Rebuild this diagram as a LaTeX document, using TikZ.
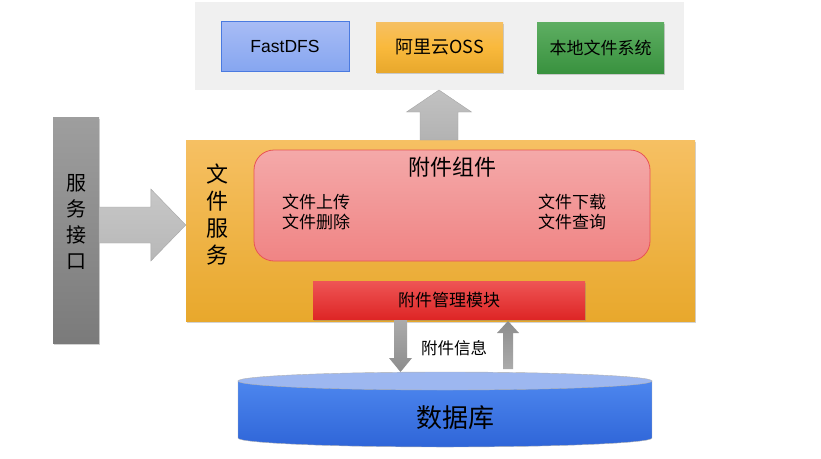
\documentclass[tikz,border=0pt]{standalone}
\usepackage{fontspec}
\setmainfont{Noto Sans CJK SC}
\newfontfamily\latinfont{Liberation Sans}
\usetikzlibrary{calc,shadows}
\definecolor{panelgray}{HTML}{F0F0F0}
\definecolor{blueA}{HTML}{A8BCF5}
\definecolor{blueB}{HTML}{86A6F0}
\definecolor{blueE}{HTML}{4A7AE0}
\definecolor{orA}{HTML}{F6C063}
\definecolor{orB}{HTML}{F9B93C}
\definecolor{orC}{HTML}{E8A82C}
\definecolor{grA}{HTML}{5EAE62}
\definecolor{grB}{HTML}{39923F}
\definecolor{pkA}{HTML}{F4A9A9}
\definecolor{pkB}{HTML}{F08484}
\definecolor{pkE}{HTML}{E85454}
\definecolor{rdA}{HTML}{EE5555}
\definecolor{rdB}{HTML}{DE2626}
\definecolor{dbA}{HTML}{4D86EE}
\definecolor{dbB}{HTML}{2F65D8}
\definecolor{dbT}{HTML}{9DB7F0}
\tikzset{
  box/.style={rectangle, minimum width=#1, inner sep=0pt, font=\fontsize{17}{19}\selectfont},
  softshadow/.style={drop shadow={opacity=0.35, shadow xshift=1pt, shadow yshift=-1.5pt}},
  grayarrow/.style={draw=black!35, line width=0.4pt},
}
\newcommand\fatarrow[6]{%
  \coordinate (fa-h) at ($(#2)!#5!(#1)$);
  \path[#6] ($(#1)!#3!90:(#2)$) -- ($(fa-h)!#3!-90:(#1)$) -- ($(fa-h)!#4!-90:(#1)$)
    -- (#2) -- ($(fa-h)!#4!90:(#1)$) -- ($(fa-h)!#3!90:(#1)$) -- ($(#1)!#3!-90:(#2)$) -- cycle;
}
\begin{document}
\begin{tikzpicture}[x=1pt,y=-1pt]
\useasboundingbox (0,0) rectangle (821,458);
\fill[white] (0,0) rectangle (821,458);
% top storage panel
\node[fill=panelgray, minimum width=489pt, minimum height=88pt, inner sep=0pt] (panel) at (439.5,46) {};
\node[box=128pt, minimum height=50pt, top color=blueA, bottom color=blueB, draw=blueE, line width=0.8pt, font=\latinfont\fontsize{17.5}{19}\selectfont] (fdfs) at (285,46) {FastDFS};
\node[box=127pt, minimum height=50pt, top color=orA, bottom color=orC, middle color=orB, softshadow, font=\fontsize{18}{19}\selectfont] (oss) at (439.5,47) {阿里云OSS};
\node[box=127pt, minimum height=51pt, top color=grA, bottom color=grB, softshadow] (local) at (600.5,47.5) {本地文件系统};
% service interface bar
\node[box=46pt, minimum height=226pt, top color=black!38, bottom color=black!52, softshadow] (svc) at (76,230) {};
\node[font=\fontsize{20}{26}\selectfont, align=center, inner sep=0pt] (svclabel) at (76,222) {服\\务\\接\\口};
% file service box
\node[box=509pt, minimum height=181pt, top color=orA, middle color=orB, bottom color=orC, softshadow] (fs) at (440.5,230.5) {};
\node[font=\fontsize{22}{27}\selectfont, align=center, inner sep=0pt] (fslabel) at (217,215) {文\\件\\服\\务};
% attachment component
\node[rectangle, rounded corners=20pt, minimum width=396pt, minimum height=111pt, inner sep=0pt, top color=pkA, bottom color=pkB, draw=pkE, line width=0.8pt] (comp) at (452,205.5) {};
\node[font=\fontsize{22}{24}\selectfont, inner sep=0pt] (comptitle) at (452,167) {附件组件};
\node[font=\fontsize{17}{20}\selectfont, align=left, anchor=west, inner sep=0pt] (opsL) at (282,212) {文件上传\\文件删除};
\node[font=\fontsize{17}{20}\selectfont, align=left, anchor=west, inner sep=0pt] (opsR) at (538,212) {文件下载\\文件查询};
% management module
\node[box=272pt, minimum height=38pt, top color=rdA, bottom color=rdB, softshadow] (mod) at (449,300) {附件管理模块};
% arrows
\coordinate (a1s) at (99,225);
\coordinate (a1e) at (fs.west |- a1s);
\fatarrow{a1s}{a1e}{18pt}{36pt}{35pt}{grayarrow, top color=black!22, bottom color=black!28, shading angle=0}
\coordinate (a2s) at (439,140);
\coordinate (a2e) at (439,90);
\fatarrow{a2s}{a2e}{19pt}{32.5pt}{22pt}{grayarrow, top color=black!24, bottom color=black!30}
\coordinate (a3s) at (400.5,320);
\coordinate (a3e) at (400.5,372);
\fatarrow{a3s}{a3e}{6.5pt}{11.5pt}{14pt}{draw=none, top color=black!33, bottom color=black!45}
\coordinate (a4s) at (508,369);
\coordinate (a4e) at (508,321);
\fatarrow{a4s}{a4e}{5pt}{11pt}{12pt}{draw=none, top color=black!45, bottom color=black!33}
\node[font=\fontsize{16.5}{18}\selectfont, inner sep=0pt] (info) at (454,348) {附件信息};
% database cylinder
\path[top color=dbA, bottom color=dbB, draw=black!30, line width=0.4pt]
  (238,381) -- (238,438) arc[start angle=180, end angle=360, x radius=207pt, y radius=9pt] -- (652,381) -- cycle;
\path[fill=dbT, draw=black!30, line width=0.4pt] (445,381) ellipse [x radius=207pt, y radius=9pt];
\node[font=\fontsize{26}{30}\selectfont, inner sep=0pt] (db) at (455,418) {数据库};
\end{tikzpicture}
\end{document}
